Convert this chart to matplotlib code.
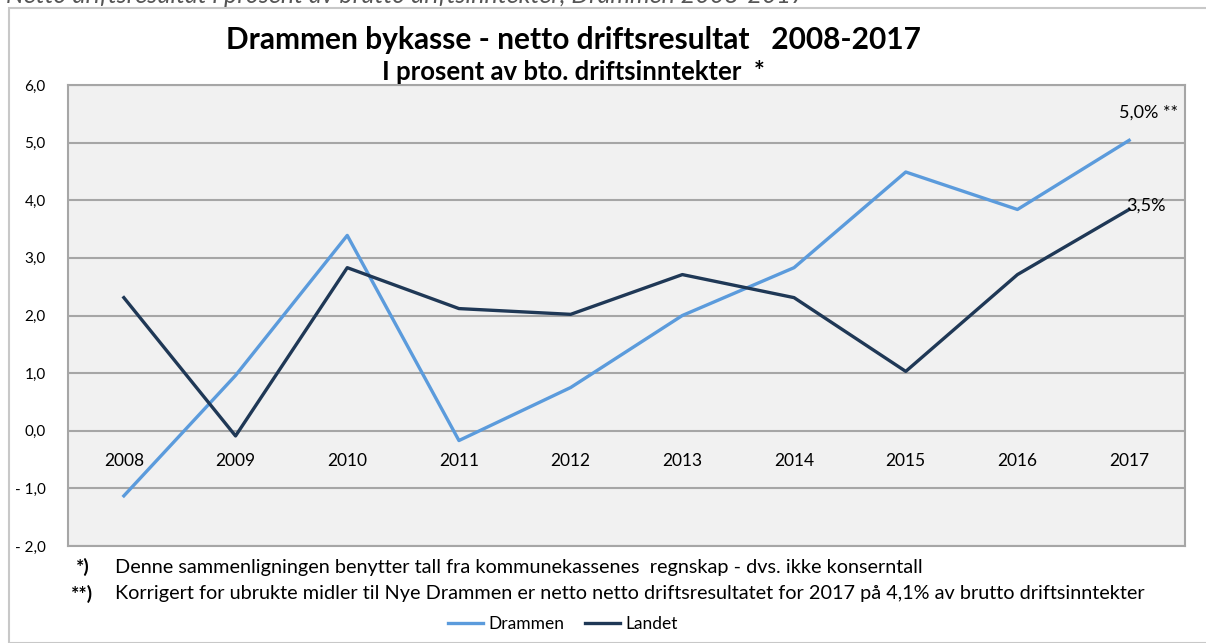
import matplotlib.pyplot as plt
from matplotlib.patches import Rectangle

# data
years = ['2008', '2009', '2010', '2011', '2012', '2013', '2014', '2015', '2016', '2017']
drammen = [-1.13, 0.96, 3.39, -0.17, 0.75, 2.0, 2.83, 4.49, 3.84, 5.04]
landet = [2.31, -0.09, 2.83, 2.12, 2.02, 2.71, 2.31, 1.03, 2.71, 3.84]
yticks = [-2, -1, 0, 1, 2, 3, 4, 5, 6]

plt.rcParams['font.family'] = ['Lato', 'DejaVu Sans']

fig = plt.figure(figsize=(12.06, 6.43), dpi=100)
ax = fig.add_axes([68 / 1206, 1 - 546 / 643, 1117 / 1206, 461 / 643])

# outer frame round the chart
fig.patches.append(Rectangle((9 / 1206, 0), 1.1, 1 - 8 / 643, transform=fig.transFigure,
                             fill=False, edgecolor='#c8c8c8', lw=1.5))
# clipped document line above the chart
fig.text(0.005, 1 - 3 / 643, 'Netto driftsresultat i prosent av brutto driftsinntekter, Drammen 2008-2017',
         fontsize=18, style='italic', color='#555555', va='baseline', ha='left')

x = range(len(years))
ax.plot(x, drammen, color='#5b9bdc', lw=2.4, label='Drammen', zorder=3)
ax.plot(x, landet, color='#1f3856', lw=2.4, label='Landet', zorder=3)

ax.set_facecolor('#f1f1f1')
ax.set_xlim(-0.5, len(years) - 0.5)
ax.set_ylim(-2, 6)
ax.set_yticks(yticks)
ax.set_yticklabels([f'{v:.1f}'.replace('.', ',').replace('-', '- ') for v in yticks], fontsize=11)
ax.tick_params(axis='y', length=0, pad=16)
ax.set_xticks([])
ax.grid(axis='y', color='#a6a6a6', lw=1.5, zorder=1)
for s in ax.spines.values():
    s.set_color('#a6a6a6')
    s.set_linewidth(1.5)

# category labels sit just below the zero line
for i, yr in enumerate(years):
    ax.annotate(yr, (i, 0), xytext=(0, -22), textcoords='offset points',
                ha='center', va='center', fontsize=12.5)

ax.annotate('5,0% **', (len(years) - 1, drammen[-1]), xytext=(14, 20), textcoords='offset points',
            ha='center', va='center', fontsize=13)
ax.annotate('3,5%', (len(years) - 1, landet[-1]), xytext=(12, 3), textcoords='offset points',
            ha='center', va='center', fontsize=13)

fig.text(573 / 1206, 1 - 40 / 643, 'Drammen bykasse - netto driftsresultat   2008-2017',
         ha='center', va='center', fontsize=21.5, fontweight='bold')
fig.text(573 / 1206, 1 - 72 / 643, 'I prosent av bto. driftsinntekter  *',
         ha='center', va='center', fontsize=18.5, fontweight='bold')

fig.text(76 / 1206, 1 - 567 / 643, '*)', fontsize=14, fontweight='bold', va='center')
fig.text(115 / 1206, 1 - 567 / 643,
         'Denne sammenligningen benytter tall fra kommunekassenes  regnskap - dvs. ikke konserntall',
         fontsize=14.3, va='center')
fig.text(71 / 1206, 1 - 594 / 643, '**)', fontsize=14, fontweight='bold', va='center')
fig.text(115 / 1206, 1 - 594 / 643,
         'Korrigert for ubrukte midler til Nye Drammen er netto netto driftsresultatet for 2017 på 4,1% av brutto driftsinntekter',
         fontsize=14.3, va='center')

fig.legend(loc='center', bbox_to_anchor=(563 / 1206, 1 - 624 / 643), ncol=2, frameon=False,
           fontsize=12.5, handlelength=2.0, handletextpad=0.3, columnspacing=1.2)

fig.savefig('out.png', dpi=100)
